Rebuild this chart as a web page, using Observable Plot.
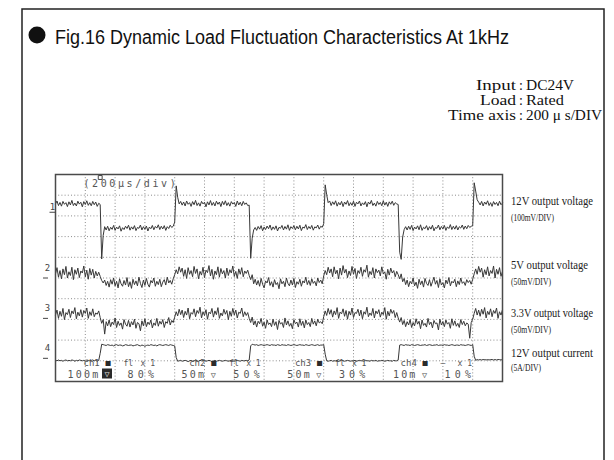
<!DOCTYPE html>
<html><head><meta charset="utf-8">
<script src="https://cdn.jsdelivr.net/npm/d3@7"></script>
<script src="https://cdn.jsdelivr.net/npm/@observablehq/plot@0.6"></script>
<style>
html,body{margin:0;padding:0;background:#fff;}
#page{position:relative;width:614px;height:460px;overflow:hidden;background:#fff;}
#page > svg{position:absolute;left:0;top:0;}
</style></head><body><div id="page"></div>
<script>
// ---------- data ----------
const titleText = "Fig.16 Dynamic Load Fluctuation Characteristics At 1kHz";
const infoLabels = ["Input", "Load", "Time axis"];
const infoValues = ["DC24V", "Rated", "200 \u03bc s/DIV"];
const labelNames = ["12V output voltage", "5V output voltage", "3.3V output voltage", "12V output current"];
const labelScales = ["(100mV/DIV)", "(50mV/DIV)", "(50mV/DIV)", "(5A/DIV)"];

const sampleUs = 10;            // one sample every 10 µs (200 µs/DIV, 15 DIV)
const gridX = [200,400,600,800,1000,1200,1400,1600,1800,2000,2200,2400,2600,2800];
const gridY = [1,2,3,4,5,6,7,8,9];
const triggerUs = [300];
const timeDivLabel = "(200\u00b5s/div)";

const channelNames = ["1", "2", "3", "4"];
const channelScale = [100, 50, 50, 5];       // mV/DIV, mV/DIV, mV/DIV, A/DIV
const channelOffset = [8.2, 5.0, 3.05, 1.12]; // reference marker, in DIV

const readoutChannels = ["ch1", "ch2", "ch3", "ch4"];
const readoutCoupling = ["fl", "fl", "fl", "\u2014"];
const readoutMult = ["x 1", "x 1", "x 1", "x 1"];
const readoutVdiv = ["100m", "50m", "50m", "10m"];
const readoutPos = ["80%", "50%", "30%", "10%"];

// 12V output voltage, mV deviation from marker
const ch1 = [
 38,52,30,45,27,50,36,44,25,48,
 33,55,30,42,28,51,37,46,24,49,
 35,53,31,44,29,50,34,47,26,41,
 35,-228,-115,-72,-88,-70,-92,-75,-85,-66,
 -90,-74,-83,-68,-94,-77,-86,-70,-81,-65,
 -89,-73,-84,-67,-91,-76,-80,-64,-88,-72,
 -85,-69,-93,-74,-82,-66,-87,-71,-79,-63,
 -86,-70,-83,-67,-90,-72,-81,-65,-76,-70,
 -50,125,70,38,50,32,47,28,52,36,
 44,26,49,34,55,30,43,27,50,38,
 46,24,48,33,54,31,45,28,51,36,
 47,25,50,34,53,30,44,27,49,37,
 45,26,52,33,46,29,50,35,43,30,
 32,-225,-128,-88,-76,-90,-71,-84,-67,-92,
 -74,-86,-69,-82,-64,-89,-73,-85,-68,-93,
 -75,-80,-66,-88,-71,-84,-63,-90,-72,-81,
 -67,-87,-70,-83,-65,-91,-74,-79,-62,-86,
 -71,-82,-66,-89,-73,-78,-64,-84,-70,-75,
 -58,130,82,44,52,30,48,35,53,27,
 45,33,50,25,47,36,54,29,44,31,
 51,26,46,38,52,28,43,34,49,24,
 47,37,55,30,42,27,50,35,45,29,
 53,32,46,26,48,36,51,31,44,38,
 35,-195,-230,-122,-86,-72,-88,-70,-85,-66,
 -91,-74,-83,-68,-87,-63,-90,-75,-82,-67,
 -89,-72,-84,-65,-92,-76,-80,-64,-87,-71,
 -83,-66,-90,-73,-81,-62,-86,-70,-84,-67,
 -88,-72,-79,-64,-85,-69,-82,-66,-76,-70,
 -68,140,100,58,46,33,50,28,47,36,
 53,30,44,26,49,35,45,29,51,34,
 42];

// 5V output voltage, mV
const ch2 = [
 10,25,2,18,-2,22,8,28,0,15,
 6,26,-4,20,9,24,1,17,12,29,
 3,19,-3,23,7,21,0,16,5,14,
 4,-6,-12,-5,-18,-8,-22,-4,-15,0,
 -19,-8,-24,-2,-14,-20,-6,-17,1,-21,
 -9,-25,-3,-16,-7,-19,2,-13,-23,-5,
 -18,-1,-15,-22,-6,-12,0,-20,-8,-16,
 -3,-21,-10,-4,-17,2,-12,-6,-15,-2,
 8,20,10,27,14,24,4,20,-1,25,
 9,18,3,28,11,22,-2,16,7,26,
 1,19,13,30,5,21,-3,17,8,27,
 2,23,10,18,0,24,6,20,12,29,
 4,16,-1,22,9,25,3,17,11,19,
 6,-4,8,-14,-3,-17,-6,-20,-1,-15,
 -24,-7,-12,1,-18,-9,-22,-4,-16,-11,
 -26,-2,-14,-8,-21,0,-13,-19,-5,-17,
 -1,-23,-9,-15,-3,-20,-7,-12,2,-16,
 -6,-18,-2,-13,-8,-19,0,-11,-5,-14,
 5,18,8,26,12,22,3,27,10,19,
 -2,24,7,30,12,21,1,17,6,28,
 9,23,-1,18,11,26,4,20,14,31,
 2,16,8,25,0,22,13,19,5,27,
 10,15,-3,21,7,24,12,18,3,16,
 8,-2,10,-9,-1,-16,-5,-21,-8,-14,
 0,-19,-10,-25,-3,-16,-7,-22,-1,-13,
 -18,-4,-20,-9,2,-15,-6,-23,-2,-17,
 -11,-24,-5,-14,1,-19,-8,-12,-3,-21,
 -7,-16,0,-13,-9,-18,-4,-11,-6,-15,
 -3,10,22,9,28,14,24,2,20,8,
 27,5,18,11,29,0,21,9,25,4,
 16];

// 3.3V output voltage, mV
const ch3 = [
 8,20,0,17,5,24,-3,14,9,22,
 2,18,11,26,-1,15,6,21,3,19,
 12,25,0,16,7,23,4,13,10,18,
 2,-12,-3,-38,-8,-18,-4,-20,-9,-15,
 1,-22,-7,-17,-11,-26,-3,-14,-19,-5,
 -21,-8,-16,-2,-24,-10,-13,-30,-6,-18,
 -1,-20,-9,-15,-4,-23,-11,-17,0,-19,
 -7,-14,-3,-22,-8,-12,2,-16,-5,-10,
 3,16,6,22,9,20,2,17,8,25,
 -1,14,10,23,4,19,12,27,1,16,
 7,21,-2,15,11,24,3,18,9,26,
 0,13,6,22,10,19,-3,17,5,24,
 8,20,1,15,12,25,4,16,7,14,
 0,-10,3,-16,-6,-21,-7,-13,0,-19,
 -9,-24,-4,-15,-11,-20,-2,-17,-8,-27,
 -5,-14,-10,-22,1,-16,-6,-19,-12,-25,
 -3,-13,-9,-21,-1,-17,-7,-23,-4,-15,
 -10,-20,0,-14,-6,-18,-2,-11,-8,-13,
 4,18,7,24,10,21,3,18,9,26,
 0,15,11,23,5,19,-2,17,8,25,
 2,14,12,22,6,20,-1,16,10,27,
 4,13,7,24,1,18,11,21,3,15,
 9,26,-2,17,6,22,12,19,2,14,
 1,-9,2,-15,-5,-20,-8,-16,-3,-22,
 -10,-18,-1,-14,-7,-25,-4,-17,-12,-21,
 0,-15,-9,-23,-5,-13,-11,-28,-2,-16,
 -8,-20,-4,-14,-10,-24,-1,-17,-6,-19,
 -12,-22,-3,-15,-7,-18,-11,-14,-48,-10,
 -2,12,24,8,20,5,22,10,26,1,
 17,9,23,4,19,12,25,0,16,8,
 21];

// 12V output current, A
const ch4 = [
 -0.5,-0.6,-0.4,-0.6,-0.5,-0.7,-0.5,-0.4,-0.6,-0.5,
 -0.6,-0.4,-0.5,-0.7,-0.5,-0.6,-0.4,-0.5,-0.6,-0.5,
 -0.7,-0.4,-0.5,-0.6,-0.5,-0.4,-0.6,-0.5,-0.7,-0.5,
 1.2,3.4,3.3,3.2,3.1,3.3,3.2,3.1,3.2,3.0,
 3.2,3.3,3.1,3.2,3.2,3.0,3.1,3.3,3.2,3.1,
 3.2,3.2,3.0,3.1,3.2,3.3,3.1,3.0,3.2,3.1,
 2.9,3.1,3.2,3.1,3.3,3.2,3.1,3.2,3.0,3.2,
 3.3,3.2,3.1,3.2,3.3,3.2,3.1,3.3,3.2,3.1,
 3.0,0.2,-0.7,-0.6,-0.5,-0.7,-0.6,-0.5,-0.6,-0.8,
 -0.6,-0.5,-0.7,-0.6,-0.5,-0.6,-0.7,-0.5,-0.6,-0.6,
 -0.5,-0.7,-0.6,-0.5,-0.6,-0.8,-0.6,-0.5,-0.7,-0.6,
 -0.5,-0.6,-0.7,-0.6,-0.5,-0.6,-0.7,-0.6,-0.5,-0.6,
 -0.7,-0.6,-0.5,-0.6,-0.7,-0.5,-0.6,-0.6,-0.5,-0.6,
 -0.4,3.0,3.4,3.3,3.2,3.3,3.1,3.2,3.3,3.2,
 3.1,3.2,3.3,3.2,3.1,3.3,3.2,3.2,3.1,3.3,
 3.2,3.1,3.3,3.2,3.2,3.1,3.3,3.2,3.1,3.2,
 3.3,3.2,3.1,3.2,3.3,3.2,3.2,3.1,3.3,3.2,
 3.1,3.2,3.3,3.2,3.1,3.2,3.3,3.1,3.2,3.2,
 3.3,1.0,-0.6,-0.7,-0.6,-0.5,-0.7,-0.6,-0.6,-0.5,
 -0.7,-0.6,-0.5,-0.6,-0.7,-0.6,-0.5,-0.6,-0.7,-0.6,
 -0.6,-0.5,-0.7,-0.6,-0.5,-0.6,-0.6,-0.7,-0.5,-0.6,
 -0.6,-0.7,-0.5,-0.6,-0.6,-0.5,-0.7,-0.6,-0.6,-0.5,
 -0.6,-0.7,-0.6,-0.5,-0.6,-0.6,-0.7,-0.5,-0.6,-0.6,
 -0.4,3.2,3.3,3.2,3.1,3.3,3.2,3.2,3.1,3.3,
 3.2,3.1,3.2,3.3,3.2,3.1,3.2,3.2,3.3,3.1,
 3.2,3.3,3.2,3.1,3.2,3.2,3.3,3.1,3.2,3.2,
 3.1,3.3,3.2,3.2,3.1,3.2,3.3,3.2,3.1,3.2,
 3.2,3.1,3.3,3.2,3.2,3.1,3.2,3.3,3.2,3.1,
 3.3,0.5,-0.5,-0.3,-0.4,-0.3,-0.4,-0.3,-0.3,-0.4,
 -0.3,-0.4,-0.3,-0.3,-0.4,-0.3,-0.4,-0.3,-0.3,-0.4,
 -0.3];

// ---------- build ----------
const traces = [ch1, ch2, ch3, ch4];
const rows = traces.flatMap((vals, c) => vals.map((v, i) => ({
  t: i * sampleUs, div: channelOffset[c] + v / channelScale[c], ch: channelNames[c]
})));
const markers = channelNames.map((n, i) => ({n, off: channelOffset[i]}));

// short horizontal dash symbol for the channel reference markers
const dashSymbol = {draw(ctx, size) { const r = Math.sqrt(size / Math.PI); ctx.moveTo(-r, 0); ctx.lineTo(r, 0); }};

const mono = "DejaVu Sans Mono, monospace";
const readoutMarks = [];
readoutChannels.forEach((c, i) => {
  const bx = 28 + i * 105.7;
  const base = {frameAnchor: "bottom-left", textAnchor: "start", lineAnchor: "bottom", fontFamily: mono, fill: "#555"};
  readoutMarks.push(
    Plot.text([c], {...base, text: d => d, dx: bx, dy: -15.5, fontSize: 9}),
    Plot.text(["\u25a0"], {...base, text: d => d, dx: bx + 22, dy: -16, fontSize: 8.5, fill: "#2a2a2a"}),
    Plot.text([readoutCoupling[i]], {...base, text: d => d, dx: bx + 40, dy: -15.5, fontSize: 8}),
    Plot.text([readoutMult[i]], {...base, text: d => d, dx: bx + 57, dy: -15.5, fontSize: 8}),
    Plot.text([readoutVdiv[i]], {...base, text: d => d, textAnchor: "end", dx: bx + 17, dy: -3.5, fontSize: 10}),
    Plot.text([readoutPos[i]], {...base, text: d => d, dx: bx + 44, dy: -3.5, fontSize: 10})
  );
  if (i > 0) readoutMarks.push(Plot.text(["\u25bd"], {...base, text: d => d, textAnchor: "middle", dx: bx + 24, dy: -4, fontSize: 8.5}));
});

const chart = Plot.plot({
  width: 614, height: 460,
  marginLeft: 55, marginRight: 112, marginTop: 174, marginBottom: 79,
  x: {domain: [0, 3000], axis: null},
  y: {domain: [0, 10], axis: null},
  style: {background: "transparent"},
  marks: [
    Plot.ruleX(gridX, {stroke: "#8c8c8c", strokeWidth: 1, strokeDasharray: "1,2.2"}),
    Plot.ruleY(gridY, {stroke: "#8c8c8c", strokeWidth: 1, strokeDasharray: "1,2.2"}),
    Plot.line(rows, {x: "t", y: "div", z: "ch", stroke: "#383838", strokeWidth: 1}),
    Plot.frame({stroke: "#4a4a4a", strokeWidth: 1.5}),
    Plot.dot(markers.slice(0, 1), {x: () => 0, y: "off", symbol: dashSymbol, r: 3, dx: -3, dy: 0.5, stroke: "#444", strokeWidth: 1}),
    Plot.dot(markers.slice(1), {x: () => 0, y: "off", symbol: dashSymbol, r: 2.5, dx: -10, stroke: "#444", strokeWidth: 1}),
    Plot.text(markers.slice(0, 1), {x: () => 0, y: "off", text: "n", dx: -3, dy: -5, fontFamily: mono, fontSize: 9, fill: "#444"}),
    Plot.text(markers.slice(1), {x: () => 0, y: "off", text: "n", dx: -8, dy: -10, fontFamily: mono, fontSize: 9, fill: "#444"}),
    Plot.text([timeDivLabel], {frameAnchor: "top-left", text: d => d, textAnchor: "start", lineAnchor: "bottom", dx: 28, dy: 12, fontFamily: mono, fontSize: 10, fill: "#555"}),
    Plot.dot(triggerUs, {x: d => d, y: () => 10, symbol: "square", r: 2.2, dy: 3, fill: "#fff", stroke: "#444", strokeWidth: 1}),
    ...readoutMarks
  ]
});
document.getElementById("page").appendChild(chart);

// letter spacing of the scope's on-screen readouts
const spacing = new Map([[timeDivLabel, 2.6], ...readoutVdiv.map(s => [s, 2.2]), ...readoutPos.map(s => [s, 4.2])]);
d3.select(chart).selectAll("text").each(function () {
  const s = spacing.get(this.textContent);
  if (s != null) this.style.letterSpacing = s + "px";
});

// ---------- annotations ----------
const ov = d3.select("#page").append("svg").attr("width", 614).attr("height", 460);
ov.append("rect").attr("x", 22).attr("y", 9).attr("width", 582).attr("height", 480)
  .attr("fill", "none").attr("stroke", "#222").attr("stroke-width", 1.5);
ov.append("circle").attr("cx", 37).attr("cy", 35).attr("r", 8.5).attr("fill", "#111");
ov.append("text").attr("x", 55).attr("y", 44)
  .attr("font-family", "Liberation Sans, Arial, sans-serif").attr("font-size", 20)
  .attr("textLength", 454).attr("lengthAdjust", "spacingAndGlyphs").attr("fill", "#111").text(titleText);

// selected-channel (ch1) inverted marker in the scope readout
ov.append("rect").attr("x", 102).attr("y", 368.5).attr("width", 10).attr("height", 10).attr("fill", "#2a2a2a");
ov.append("text").attr("x", 107).attr("y", 376.5).attr("text-anchor", "middle")
  .attr("font-family", mono).attr("font-size", 8.5).attr("fill", "#ddd").text("\u25bd");

const serif = "Liberation Serif, Times New Roman, serif";
const infoBase = [90, 105, 119.5];
const infoLabelW = [40, 36, 68];
const infoValueW = [48, 38, 76];
infoLabels.forEach((l, i) => {
  ov.append("text").attr("x", 516).attr("y", infoBase[i]).attr("text-anchor", "end")
    .attr("font-family", serif).attr("font-size", 14).attr("fill", "#111")
    .attr("textLength", infoLabelW[i]).attr("lengthAdjust", "spacingAndGlyphs").text(l);
  ov.append("text").attr("x", 521).attr("y", infoBase[i]).attr("text-anchor", "middle")
    .attr("font-family", serif).attr("font-size", 14).attr("fill", "#111").text(":");
  ov.append("text").attr("x", 526).attr("y", infoBase[i])
    .attr("font-family", serif).attr("font-size", 14).attr("fill", "#111")
    .attr("textLength", infoValueW[i]).attr("lengthAdjust", "spacingAndGlyphs").text(infoValues[i]);
});

const nameBase = [205, 269, 317, 357];
const scaleBase = [221, 285, 333, 371];
const nameW = [82, 77, 82, 82];
const scaleW = [43, 40, 40, 30];
labelNames.forEach((n, i) => {
  ov.append("text").attr("x", 511).attr("y", nameBase[i])
    .attr("font-family", serif).attr("font-size", 12).attr("fill", "#222")
    .attr("textLength", nameW[i]).attr("lengthAdjust", "spacingAndGlyphs").text(n);
  ov.append("text").attr("x", 511).attr("y", scaleBase[i])
    .attr("font-family", serif).attr("font-size", 10).attr("fill", "#222")
    .attr("textLength", scaleW[i]).attr("lengthAdjust", "spacingAndGlyphs").text(labelScales[i]);
});
</script></body></html>
